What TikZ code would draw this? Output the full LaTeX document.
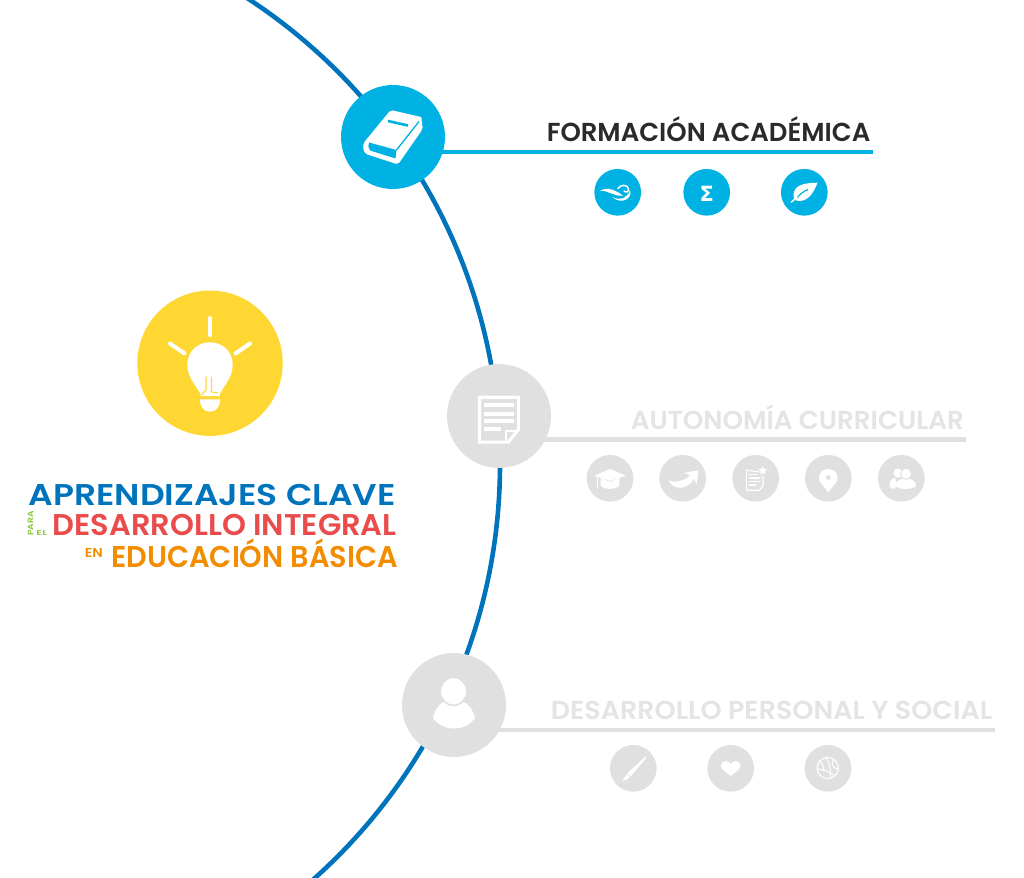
\documentclass[tikz,border=0pt]{standalone}
\usepackage{fontspec}
\usepackage{graphicx}
\setmainfont{Poppins}[BoldFont=Poppins SemiBold]
\newfontfamily\symfont{DejaVu Sans Bold}
\usetikzlibrary{backgrounds}
\definecolor{arcblue}{HTML}{0073BD}
\definecolor{cyanb}{HTML}{00B2E3}
\definecolor{offgray}{HTML}{E0E0E0}
\definecolor{offtext}{HTML}{E4E4E4}
\definecolor{darktxt}{HTML}{2B2A29}
\definecolor{bulbyel}{HTML}{FFD733}
\definecolor{redt}{HTML}{EA4B4B}
\definecolor{oranget}{HTML}{F28C00}
\definecolor{greent}{HTML}{8DC63F}
\newcommand{\fitw}[3]{\resizebox{#1pt}{\height}{\fontsize{#2pt}{#2pt}\selectfont\bfseries #3}}
\tikzset{
  bigdot/.style={circle,fill=#1,inner sep=0pt,minimum size=104pt},
  smalldot/.style={circle,fill=#1,inner sep=0pt,minimum size=46.7pt},
  txt/.style={inner sep=0pt,anchor=base east},
  ico/.style={fill=white,draw=none},
  icol/.style={draw=white,line cap=round,line join=round},
}
\begin{document}
\begin{tikzpicture}[x=1pt,y=-1pt]
\useasboundingbox (0,0) rectangle (1024,877);
% main nodes
\node[bigdot=cyanb] (book) at (393,137) {};
\node[bigdot=offgray] (doc) at (499,416) {};
\node[bigdot=offgray] (person) at (454,705) {};
\coordinate (endA) at (873,152);
\coordinate (endB) at (966,439.6);
\coordinate (endC) at (994.5,730);
\begin{pgfonlayer}{background}
  \begin{scope}
    \clip (0,0) rectangle (1024,877);
    \draw[arcblue,line width=4.6pt] (-55.5,464) circle (555.5pt);
  \end{scope}
  \draw[cyanb,line width=4.4pt] (book |- endA) -- (endA);
  \draw[offgray,line width=4.4pt] (doc |- endB) -- (endB);
  \draw[offgray,line width=4.4pt] (person |- endC) -- (endC);
\end{pgfonlayer}
% headings
\node[txt,text=darktxt] (h1) at (870.5,142) {\fitw{323.5}{26}{FORMACIÓN ACADÉMICA}};
\node[txt,text=offtext] (h2) at (964,429.8) {\fitw{333}{26}{AUTONOMÍA CURRICULAR}};
\node[txt,text=offtext] (h3) at (992.5,719.8) {\fitw{441.5}{26}{DESARROLLO PERSONAL Y SOCIAL}};
% small dots
\node[smalldot=cyanb] (a1) at (617.7,192.3) {};
\node[smalldot=cyanb] (a2) at (706.7,192.3) {};
\node[smalldot=cyanb] (a3) at (804.3,192.3) {};
\node[smalldot=offgray] (b1) at (610,478.3) {};
\node[smalldot=offgray] (b2) at (682.7,478.3) {};
\node[smalldot=offgray] (b3) at (755.7,478.3) {};
\node[smalldot=offgray] (b4) at (828.3,478.3) {};
\node[smalldot=offgray] (b5) at (901.3,478.3) {};
\node[smalldot=offgray] (c1) at (633.3,768.3) {};
\node[smalldot=offgray] (c2) at (730.7,768.3) {};
\node[smalldot=offgray] (c3) at (828,768.3) {};
% yellow bulb
\node[circle,fill=bulbyel,inner sep=0pt,minimum size=145.4pt] (bulb) at (210,363.2) {};
\draw[icol,line width=4pt] (210,318) -- (210,335);
\draw[icol,line width=4pt] (170,343.5) -- (184.5,353.5);
\draw[icol,line width=4pt] (250,343.5) -- (235.5,353.5);
\fill[white] (201,396) .. controls (199,388) and (187.3,379) .. (187.3,365)
  .. controls (187.3,351) and (198,342.3) .. (210,342.3)
  .. controls (222,342.3) and (232.7,351) .. (232.7,365)
  .. controls (232.7,379) and (221,388) .. (219.5,396) -- cycle;
\fill[white] (200,399.3) -- (220,399.3) .. controls (220,407) and (216,411.7) .. (210,411.7)
  .. controls (204,411.7) and (200,407) .. (200,399.3) -- cycle;
\draw[bulbyel,line width=1.2pt] (206,376.5) -- (206,390) -- (201.5,395);
\draw[bulbyel,line width=1.2pt] (211.5,376.5) -- (211.5,392) -- (218,393);
\draw[bulbyel,line width=1.2pt] (199,397.4) -- (221,397.4);
% title
\node[txt,text=arcblue] (t1) at (396,505) {\fitw{367}{30}{APRENDIZAJES CLAVE}};
\node[txt,text=redt] (t2) at (397,535.8) {\fitw{344}{30}{DESARROLLO INTEGRAL}};
\node[txt,text=oranget] (t3) at (398,567.8) {\fitw{286.5}{30}{EDUCACIÓN BÁSICA}};
\node[txt,text=oranget] (en) at (103,557.3) {\fitw{18}{13}{EN}};
\node[txt,text=greent] (el) at (47.5,535.8) {\fitw{10.8}{7}{EL}};
\node[inner sep=0pt,anchor=base west,rotate=90,text=greent] (para) at (33.3,535.8) {\fitw{24.5}{8}{PARA}};
% book icon
\fill[white,rounded corners=2pt] (390.7,110) -- (422.3,117.3) -- (421,122) -- (423,125) -- (422,130) -- (398,164.5) -- (369,155) .. controls (363,153) and (362,145) .. (366,140) -- cycle;
\fill[cyanb] (369,142.5) -- (396.5,150) -- (395.5,158.5) -- (370,150.5) .. controls (368,148) and (368,145) .. (369,142.5) -- cycle;
\draw[cyanb,line width=1.3pt] (396.5,150) -- (419,121.5);
\draw[cyanb,line width=2.6pt] (388,121) -- (408,125.5);
% wave icon
\fill[white] (600,190.7) .. controls (608,186.5) and (615,190) .. (623,195.5) .. controls (614,197) and (609,190.5) .. (600,190.7) -- cycle;
\draw[icol,line width=1.5pt] (618,188.5) .. controls (620,184.5) and (628,184) .. (628.5,189) .. controls (629,192) and (626,193) .. (624,191);
\fill[white] (612,197) .. controls (620,201) and (628,198) .. (630,190) .. controls (633,198) and (622,205.5) .. (612,197) -- cycle;
% sigma
\node[inner sep=0pt,text=white] (sigma) at (706.7,194) {\symfont\fontsize{21pt}{21pt}\selectfont Σ};
% leaf
\fill[white] (817.5,182.7) .. controls (806,183) and (795,184) .. (793.5,194) .. controls (793,197) and (794,199) .. (796,200.5) .. controls (806,203) and (813,195) .. (817.5,182.7) -- cycle;
\draw[cyanb,line width=1.2pt] (797,198) .. controls (800,194) and (804,191) .. (808,189.5);
\draw[icol,line width=1.5pt] (791.5,202) -- (797,197);
% big doc icon
\fill[white] (477.8,395.7) -- (520,395.7) -- (520,430) -- (509,443.7) -- (477.8,443.7) -- cycle;
\fill[offgray] (481,399) -- (516.8,399) -- (516.8,428.5) -- (507.5,440.5) -- (481,440.5) -- cycle;
\fill[white] (484,403.3) rectangle (513.6,407.3);
\fill[white] (484,411.5) rectangle (513.6,415.5);
\fill[white] (484,419.3) rectangle (513.6,423.3);
\fill[white] (484,427.4) rectangle (501,431.4);
\draw[white,line width=1.4pt,line join=round] (516.5,431) -- (506,431) -- (506,442);
% person icon
\fill[white] (433,718) .. controls (435,709) and (440,703) .. (445,701) -- (462,701) .. controls (468,703) and (473,710) .. (475,718) .. controls (470,725) and (462,728.5) .. (454,728.5) .. controls (446,728.5) and (438,725) .. (433,718) -- cycle;
\draw[offgray,line width=1.6pt,fill=white] (453.5,691.3) ellipse (13.4pt and 14pt);
% cap
\fill[white] (600.7,478) -- (600.7,485.5) .. controls (604,490) and (616,490) .. (619.3,485.5) -- (619.3,478) -- (610,482) -- cycle;
\fill[white] (594.3,475.7) -- (610,469) -- (626,475.7) -- (610,481) -- cycle;
\draw[icol,line width=1.3pt] (597.8,476) -- (597.8,488);
% arrow
\fill[white] (668.3,480.3) .. controls (676,483.5) and (686,480) .. (690.5,475) -- (683.3,473) -- (698.3,470.3) -- (696.7,484.5) -- (694,478.5) .. controls (688,490) and (674,491) .. (668.3,480.3) -- cycle;
% small doc
\draw[icol,line width=1.2pt] (759,472) -- (746.6,470) -- (746.6,490.2) -- (759,490.2) -- (763,486) -- (763,476);
\draw[icol,line width=1.4pt] (749.5,474.5) -- (757.5,474.5);
\draw[icol,line width=1.4pt] (749.5,478) -- (760,478);
\draw[icol,line width=1.4pt] (749.5,481.5) -- (760,481.5);
\draw[icol,line width=1.4pt] (749.5,485) -- (756,485);
\fill[white] (762.7,465.8) -- (763.9,469) -- (767.3,469.2) -- (764.6,471.3) -- (765.5,474.6) -- (762.7,472.7) -- (759.9,474.6) -- (760.8,471.3) -- (758.1,469.2) -- (761.5,469) -- cycle;
% pin
\fill[white] (828.3,492.3) .. controls (825,486.5) and (819,483.5) .. (819,478) .. controls (819,472.5) and (823,469) .. (828.3,469) .. controls (833.6,469) and (837.6,472.5) .. (837.6,478) .. controls (837.6,483.5) and (831.6,486.5) .. (828.3,492.3) -- cycle;
\fill[offgray] (828.3,477.5) circle (2.4pt);
% users
\fill[white] (898,473) circle (4.6pt);
\fill[white] (889.5,487) .. controls (889,482) and (891,478.5) .. (895,477.5) -- (897,484) -- (895,488.5) .. controls (893,489) and (890.5,488.5) .. (889.5,487) -- cycle;
\fill[white] (895.5,486) .. controls (896,481) and (900,478.5) .. (906,478.5) .. controls (912,478.5) and (916,481) .. (916,486) .. controls (912,490) and (899,490) .. (895.5,486) -- cycle;
\draw[offgray,line width=1pt,fill=white] (906,473.8) circle (5.6pt);
% brush
\fill[white] (645.3,756.8) -- (646.3,757.8) -- (630.5,776.5) -- (627,773.5) -- cycle;
\fill[white] (626.8,774.5) -- (629.8,777.2) .. controls (628,780) and (625,780.5) .. (622,780.5) .. controls (624.5,779) and (624.5,776) .. (626.8,774.5) -- cycle;
% heart
\fill[white] (730.7,775.8) .. controls (726,772) and (721,769.5) .. (721,765.5) .. controls (721,760.5) and (728,759.5) .. (730.7,764) .. controls (733.4,759.5) and (740.4,760.5) .. (740.4,765.5) .. controls (740.4,769.5) and (735.4,772) .. (730.7,775.8) -- cycle;
% ball
\draw[icol,line width=1.2pt] (827.7,768) circle (10.6pt);
\draw[icol,line width=1pt] (826,757.6) .. controls (830,763) and (831,772) .. (830,778.3);
\draw[icol,line width=1pt] (820.3,760.5) .. controls (823,765) and (824,768) .. (823.5,771) ;
\draw[icol,line width=1pt] (817.3,769) .. controls (822,769) and (829,771) .. (835,776);
\draw[icol,line width=1pt] (834,759.5) .. controls (831,763) and (830.5,767) .. (838,769);
\end{tikzpicture}
\end{document}
